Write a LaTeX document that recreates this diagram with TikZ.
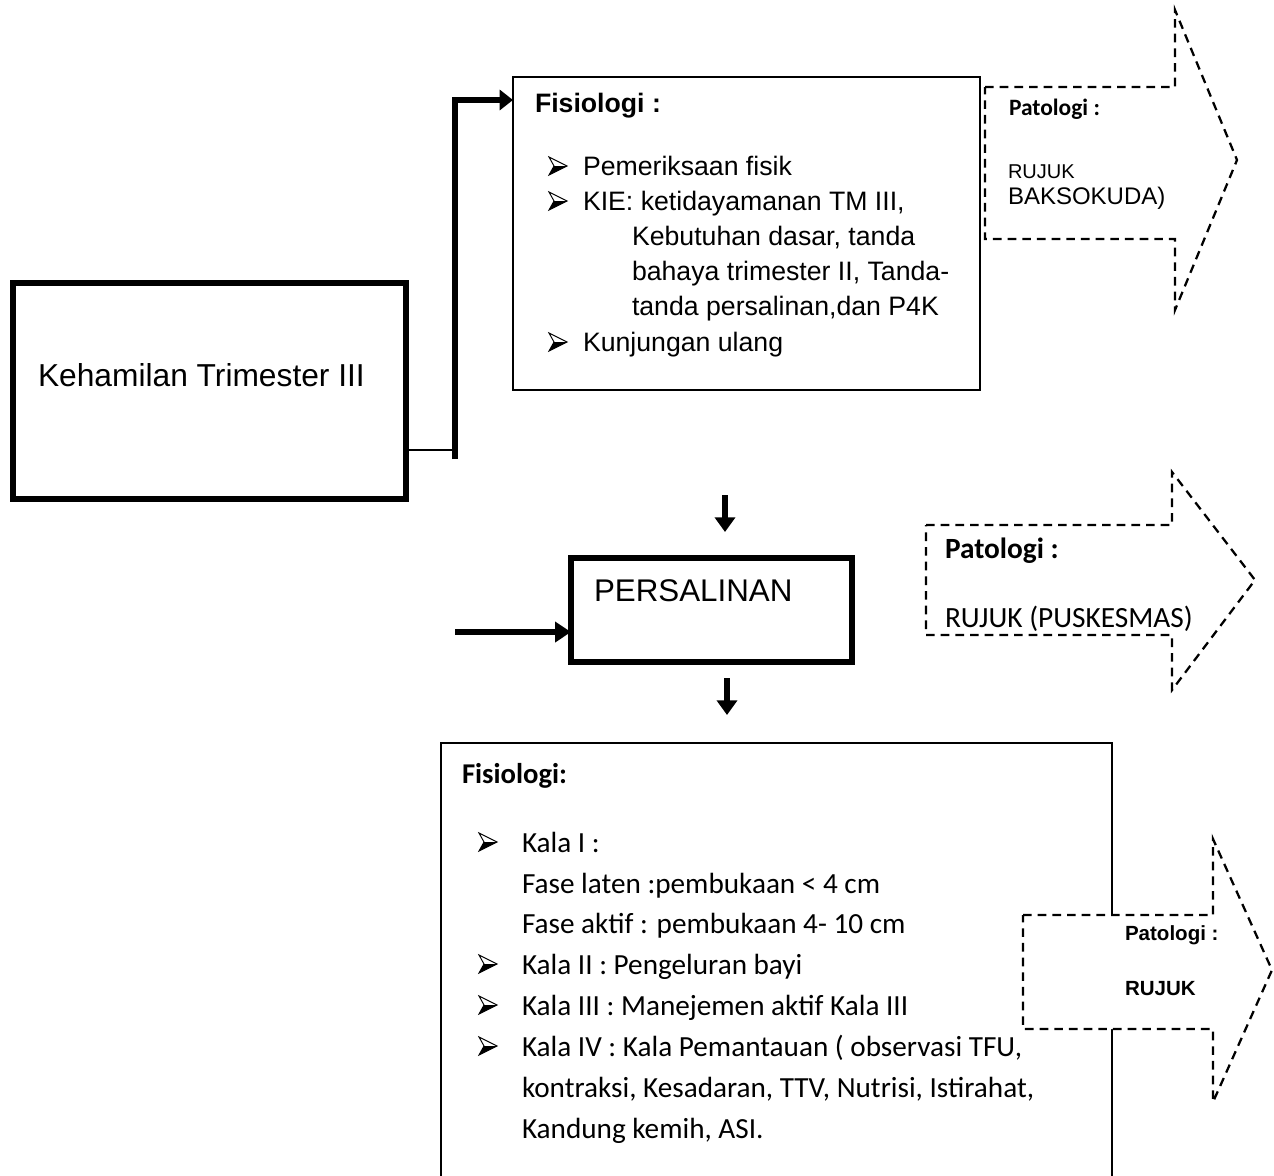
\documentclass[tikz,border=0pt]{standalone}
\usepackage{fontspec}
\setmainfont{Liberation Sans}
\newfontfamily\calib{Carlito}
\usetikzlibrary{arrows.meta}
\tikzset{
  thickbox/.style={draw, line width=4.5pt, inner sep=0pt, outer sep=0pt, line join=miter},
  thinbox/.style={draw, line width=1.2pt, inner sep=0pt, outer sep=0pt},
  patarrow/.style={draw, fill=white, line width=1.7pt, dash pattern=on 6.5pt off 4.5pt, line join=miter},
  bigarrow/.style={line width=4.5pt, line join=miter, -{Triangle[length=11pt,width=15pt]}},
  lbl/.style={anchor=base west, inner sep=0pt, outer sep=0pt},
  arbody/.style={lbl, font=\fontsize{20}{24}\selectfont},
  arhead/.style={lbl, font=\fontsize{20}{24}\selectfont\bfseries},
  cabody/.style={lbl, font=\calib\fontsize{21.9}{26}\selectfont},
  cahead/.style={lbl, font=\calib\fontsize{21.5}{26}\selectfont\bfseries},
  bul/.pic={
    \fill[black] (-4,0) -- (9,0) -- (-9,9) -- cycle;
    \draw[line width=0.7pt, line join=miter] (-9,-9) -- (9,0) -- (-9,9) -- (-4,0) -- cycle;
  },
}
\begin{document}
\begin{tikzpicture}[x=0.75pt, y=-0.75pt]
\useasboundingbox (0,0) rectangle (1274,1175);
\fill[white] (0,0) rectangle (1274,1175);
\clip (0,0) rectangle (1274,1175);

% ---- boxes
\node[thickbox, minimum width=294.75pt, minimum height=162pt] (keh) at (209.5,391) {};
\node[thinbox, minimum width=350.25pt, minimum height=234.75pt] (fis1) at (746.5,233.5) {};
\node[thickbox, minimum width=210.75pt, minimum height=78pt] (pers) at (711.5,610) {};
\node[thinbox, minimum width=503.25pt, minimum height=342.75pt] (fis2) at (776.5,971.5) {};

% ---- texts in boxes
\node[lbl, font=\fontsize{23.8}{28}\selectfont] (tkeh) at (38,386) {Kehamilan Trimester III};
\node[lbl, font=\fontsize{23.5}{28}\selectfont] (tpers) at (594,601) {PERSALINAN};

\node[arhead] (f1h) at (535,112) {Fisiologi :};
\node[arbody] (f1a) at (583,175) {Pemeriksaan fisik};
\node[arbody] (f1b) at (583,210.2) {KIE: ketidayamanan TM III,};
\node[arbody] (f1c) at (632,245.4) {Kebutuhan dasar, tanda};
\node[arbody] (f1d) at (632,280.6) {bahaya trimester II, Tanda-};
\node[arbody] (f1e) at (632,315.8) {tanda persalinan,dan P4K};
\node[arbody] (f1f) at (583,351) {Kunjungan ulang};
\pic at (558,166) {bul};
\pic at (558,201) {bul};
\pic at (558,342) {bul};

\node[cahead] (f2h) at (462,783) {Fisiologi:};
\node[cabody] (f2a) at (522,852) {Kala I :};
\node[cabody] (f2b) at (522,893) {Fase laten :pembukaan < 4 cm};
\node[cabody] (f2c) at (522,933) {Fase aktif : pembukaan 4- 10 cm};
\node[cabody] (f2d) at (522,974) {Kala II : Pengeluran bayi};
\node[cabody] (f2e) at (522,1015) {Kala III : Manejemen aktif Kala III};
\node[cabody] (f2f) at (522,1056) {Kala IV : Kala Pemantauan ( observasi TFU,};
\node[cabody] (f2g) at (522,1097) {kontraksi, Kesadaran, TTV, Nutrisi, Istirahat,};
\node[cabody] (f2i) at (522,1138) {Kandung kemih, ASI.};
\pic at (488,842) {bul};
\pic at (488,964) {bul};
\pic at (488,1005) {bul};
\pic at (488,1046) {bul};

% ---- connectors
\coordinate (jn) at (455,450);
\coordinate (vbot) at (455,459);
\coordinate (vtop) at (455,100);
\draw[line width=1pt] (keh.east |- jn) -- (jn);
\draw[bigarrow, -{Triangle[length=10pt,width=15pt]}] (vbot) -- (vtop) -- (vtop -| fis1.west);

\coordinate (lp) at (455,632);
\draw[line width=4.5pt, -{Triangle[length=12pt,width=15pt]}] (lp) -- (lp -| pers.west);

\coordinate (d1s) at (725,495);
\coordinate (d1e) at (725,532);
\coordinate (d2s) at (727,678);
\coordinate (d2e) at (727,715);
\draw[bigarrow] (d1s) -- (d1e);
\draw[bigarrow] (d2s) -- (d2e);

% ---- patologi arrows
\draw[patarrow] (985,87) -- (1175,87) -- (1175,10) -- (1237,160) -- (1175,310) -- (1175,239) -- (985,239) -- cycle;
\node[lbl, font=\calib\fontsize{17.6}{20}\selectfont\bfseries] (p1h) at (1009,115) {Patologi :};
\node[lbl, font=\fontsize{15}{18}\selectfont] (p1a) at (1008,178) {RUJUK};
\node[lbl, font=\fontsize{18}{20}\selectfont] (p1b) at (1008,204) {BAKSOKUDA)};

\draw[patarrow] (926,525) -- (1172,525) -- (1172,472) -- (1255,580) -- (1172,690) -- (1172,635) -- (926,635) -- cycle;
\node[lbl, font=\calib\fontsize{22}{26}\selectfont\bfseries] (p2h) at (945,558) {Patologi :};
\node[lbl, font=\calib\fontsize{22}{26}\selectfont] (p2a) at (945,627) {RUJUK (PUSKESMAS)};

\draw[patarrow] (1023,915) -- (1213,915) -- (1213,839) -- (1272,970) -- (1213,1102) -- (1213,1029) -- (1023,1029) -- cycle;
\node[lbl, font=\fontsize{15.4}{18}\selectfont\bfseries] (p3h) at (1125,940) {Patologi :};
\node[lbl, font=\fontsize{15.4}{18}\selectfont\bfseries] (p3a) at (1125,995) {RUJUK};
\end{tikzpicture}
\end{document}
